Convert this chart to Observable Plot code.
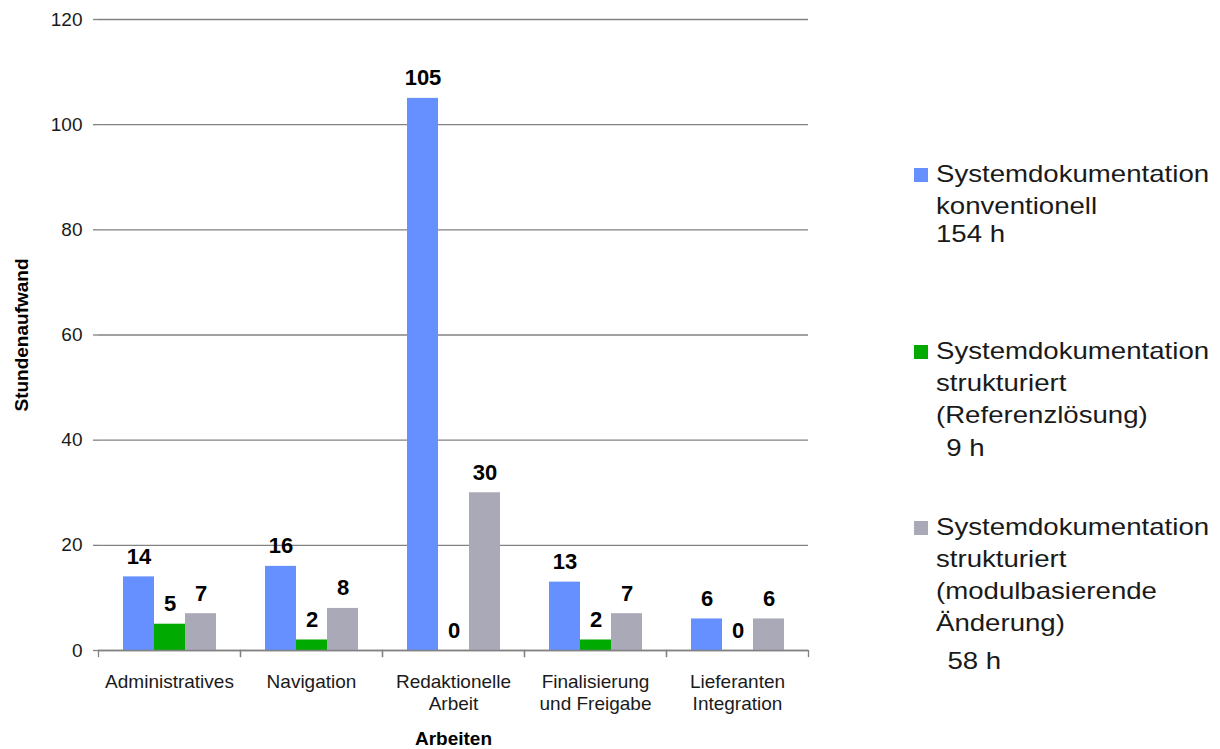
<!DOCTYPE html>
<html>
<head>
<meta charset="utf-8">
<script src="https://cdn.jsdelivr.net/npm/d3@7"></script>
<script src="https://cdn.jsdelivr.net/npm/@observablehq/plot@0.6"></script>
<style>
  html, body { margin: 0; padding: 0; background: #fff; }
  #wrap { position: relative; width: 1220px; height: 749px; overflow: hidden; font-family: "Liberation Sans", Arial, sans-serif; }
  #chart { position: absolute; left: 0; top: 0; }
  .entry { position: absolute; left: 914px; }
  .swatch { position: absolute; left: 0; top: 10px; width: 14px; height: 14px; }
  .label { position: absolute; left: 22px; top: 0; white-space: pre; font-size: 24px; line-height: 32px; color: #1a1a1a; transform: scaleX(1.15); transform-origin: left top; }
</style>
</head>
<body>
<div id="wrap">
  <div id="chart"></div>
</div>
<script>
// Arbeitsbereiche (x-Kategorien)
const categories = ["Administratives", "Navigation", "Redaktionelle\nArbeit", "Finalisierung\nund Freigabe", "Lieferanten\nIntegration"];

// Serien
const seriesKeys = ["konventionell", "referenz", "modul"];
const seriesNames = [
  "Systemdokumentation\nkonventionell",
  "Systemdokumentation\nstrukturiert\n(Referenzlösung)",
  "Systemdokumentation\nstrukturiert\n(modulbasierende\nÄnderung)"
];
const seriesColors = ["#6690ff", "#00aa00", "#aaa9b8"];

// Stundenaufwand je Arbeitsbereich
const konventionell = [14, 16, 105, 13, 6];
const referenz = [5, 2, 0, 2, 0];
const modul = [7, 8, 30, 7, 6];

const yTicks = [0, 20, 40, 60, 80, 100, 120];

const values = [konventionell, referenz, modul];
const rows = [];
categories.forEach((cat, i) => {
  seriesKeys.forEach((s, j) => rows.push({cat, series: s, value: values[j][i]}));
});

const W = 880, H = 749, mTop = 19, mBottom = 99, mLeft = 96, mRight = 70;
const plotH = H - mTop - mBottom;
const axisGrey = "#828282";

const chart = Plot.plot({
  width: W,
  height: H,
  marginLeft: mLeft,
  marginRight: mRight,
  marginTop: mTop,
  marginBottom: mBottom,
  style: {fontFamily: "'Liberation Sans', Arial, sans-serif", color: "#1a1a1a", background: "transparent"},
  fx: {domain: categories, padding: 0, axis: null},
  x: {domain: seriesKeys, paddingInner: 0, paddingOuter: 0.72, axis: null},
  y: {domain: [0, 120], axis: null},
  color: {domain: seriesKeys, range: seriesColors},
  marks: [
    Plot.gridY(yTicks, {stroke: axisGrey, strokeOpacity: 1, strokeWidth: 1.3}),
    Plot.barY(rows, {fx: "cat", x: "series", y: "value", fill: "series"}),
    Plot.text(rows, {
      fx: "cat", x: "series", y: "value", text: d => String(d.value),
      lineAnchor: "bottom", dy: -13, fontSize: 22, fontWeight: "bold", fill: "#000"
    }),
    Plot.ruleY([0], {stroke: axisGrey, strokeWidth: 1.6}),
    // Kategoriegrenzen als kurze Striche unter der Achse
    Plot.frame({anchor: "left", stroke: axisGrey, strokeWidth: 1.3, insetTop: plotH, insetBottom: -6}),
    Plot.frame({anchor: "right", stroke: axisGrey, strokeWidth: 1.3, insetTop: plotH, insetBottom: -6}),
    Plot.axisY(yTicks, {
      anchor: "left", tickSize: 5, tickPadding: 11, fontSize: 19, line: true,
      stroke: axisGrey, fill: "#1a1a1a", label: null, strokeWidth: 1.3
    }),
    Plot.text(categories, {
      fx: d => d, text: d => d, frameAnchor: "bottom", lineAnchor: "top",
      dy: 21, fontSize: 19, lineHeight: 1.2, fill: "#1a1a1a"
    }),
    Plot.text(["Arbeiten"], {
      fx: () => categories[2], text: d => d, frameAnchor: "bottom", lineAnchor: "bottom",
      dy: 94, fontSize: 19, fontWeight: "bold", fill: "#000"
    }),
    Plot.text(["Stundenaufwand"], {
      fx: () => categories[0], text: d => d, frameAnchor: "left", textAnchor: "middle", lineAnchor: "middle",
      rotate: -90, dx: -77, fontSize: 19, fontWeight: "bold", fill: "#000"
    })
  ]
});
document.getElementById("chart").appendChild(chart);

// Legende mit Summen je Serie
const totals = values.map(v => d3.sum(v));
const entryTops = [158, 335, 511];
const totalGaps = [-4, 1, 6];
const totalIndent = [0, 9, 10];
const wrap = document.getElementById("wrap");
seriesNames.forEach((name, i) => {
  const entry = document.createElement("div");
  entry.className = "entry";
  entry.style.top = entryTops[i] + "px";
  const sw = document.createElement("div");
  sw.className = "swatch";
  sw.style.background = seriesColors[i];
  entry.appendChild(sw);
  const lab = document.createElement("div");
  lab.className = "label";
  const main = document.createElement("div");
  main.textContent = name;
  const tot = document.createElement("div");
  tot.textContent = totals[i] + " h";
  tot.style.marginTop = totalGaps[i] + "px";
  tot.style.paddingLeft = totalIndent[i] + "px";
  lab.appendChild(main);
  lab.appendChild(tot);
  entry.appendChild(lab);
  wrap.appendChild(entry);
});
</script>
</body>
</html>
